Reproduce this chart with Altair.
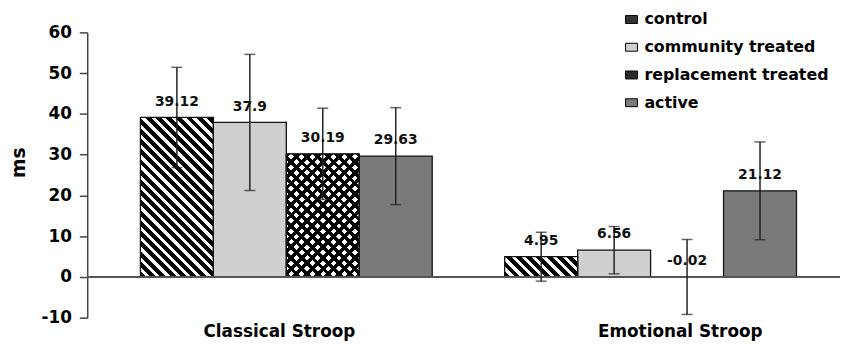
import math
import altair as alt
import pandas as pd

# ---- data ----
groups = ["Classical Stroop", "Emotional Stroop"]
series = ["control", "community treated", "replacement treated", "active"]
classical_means = [39.12, 37.9, 30.19, 29.63]
emotional_means = [4.95, 6.56, -0.02, 21.12]
classical_err = [12.3, 16.7, 11.2, 11.9]
emotional_err = [6.0, 5.8, 9.2, 12.0]

rows = []
for g, means, errs in [(groups[0], classical_means, classical_err),
                       (groups[1], emotional_means, emotional_err)]:
    for s, m, e in zip(series, means, errs):
        rows.append({"group": g, "series": s, "mean": m,
                     "lo": m - e, "hi": m + e, "label": str(m)})
df = pd.DataFrame(rows)

# ---- layout / style ----
FONT = "DejaVu Sans"
W, H = 760, 288
Y_MIN, Y_MAX = -10, 60
PPU = H / (Y_MAX - Y_MIN)
P_IN, P_OUT, ALIGN = 0.199, 0.1327, 0.55
STEP = W / (len(groups) - P_IN + 2 * P_OUT)
BAR_W = STEP * (1 - P_IN) / len(series)
fills = ["#333333", "#cfcfcf", "#2a2a2a", "#7a7a7a"]


def stripes(w, h, period, dark_frac, dark, light, direction):
    """45-degree stripe gradient in bounding-box units for a w x h bar."""
    w = max(w, 0.5)
    h = max(h, 0.5)
    k = (w + h) / (w * w + h * h)
    if direction == "back":
        x1, y1, x2, y2 = 0, 1, k * w, 1 - k * h
    else:
        x1, y1, x2, y2 = 0, 0, k * w, k * h
    n = (w + h) / (math.sqrt(2) * period)
    stops = []
    i = 0
    while i < n:
        a = i / n
        b = min((i + dark_frac) / n, 1.0)
        c = min((i + 1) / n, 1.0)
        stops += [{"offset": a, "color": dark}, {"offset": b, "color": dark},
                  {"offset": b, "color": light}, {"offset": c, "color": light}]
        i += 1
    return {"gradient": "linear", "x1": x1, "y1": y1, "x2": x2, "y2": y2,
            "stops": stops}


y_scale = alt.Scale(domain=[Y_MIN, Y_MAX], nice=False, zero=False)
y_axis = alt.Axis(values=list(range(Y_MIN, Y_MAX + 1, 10)), grid=False,
                  labelExpr="'' + datum.value",
                  tickSize=8, tickWidth=1.5, tickColor="#444",
                  domainColor="#444", domainWidth=1.5,
                  labelFont=FONT, labelFontSize=17, labelFontWeight="bold",
                  labelColor="black", labelPadding=8,
                  title="ms", titleFont=FONT, titleFontSize=19,
                  titleFontWeight="bold", titleColor="black",
                  titleAngle=270, titleX=-69, titleY=131,
                  titleAlign="center", titleBaseline="middle")


def yq(field):
    return alt.Y(field, type="quantitative", scale=y_scale, axis=y_axis)


x_enc = alt.X("group:N",
              scale=alt.Scale(domain=groups, paddingInner=P_IN,
                              paddingOuter=P_OUT, align=ALIGN),
              sort=groups,
              axis=alt.Axis(title=None, domain=False, ticks=False,
                            labelAngle=0, labelFont=FONT, labelFontSize=17,
                            labelFontWeight="bold", labelColor="black",
                            labelPadding=6,
                            labelOffset={"condition": {"test": "datum.value === 'Emotional Stroop'", "value": 30},
                                         "value": -7}))
xo_enc = alt.XOffset("series:N", sort=series,
                     scale=alt.Scale(domain=series, paddingInner=0,
                                     paddingOuter=0))

base = alt.Chart(df)

bars = base.mark_bar(strokeWidth=0).encode(
    x=x_enc, xOffset=xo_enc, y=yq("mean"), y2=alt.datum(0),
    color=alt.Color("series:N", scale=alt.Scale(domain=series, range=fills),
                    legend=alt.Legend(
                        title=None, orient="none", legendX=541.5, legendY=-21,
                        labelFont=FONT, labelFontSize=16,
                        labelFontWeight="bold", labelColor="black",
                        labelLimit=0,
                        symbolType="M-1.2,-0.8H1.2V0.8H-1.2Z",
                        symbolSize=100, symbolStrokeColor="black",
                        symbolStrokeWidth=1, symbolOpacity=1,
                        labelOffset=5, rowPadding=12, padding=0)))

patterns = []
for g, means in [(groups[0], classical_means), (groups[1], emotional_means)]:
    for s, m in zip(series, means):
        h = abs(m) * PPU
        if s == "control":
            grads = [stripes(BAR_W, h, 7.3, 0.58, "black", "white", "back")]
        elif s == "replacement treated":
            grads = [stripes(BAR_W, h, 7.6, 0.45, "black", "white", "back"),
                     stripes(BAR_W, h, 7.6, 0.45, "black", "rgba(0,0,0,0)", "fwd")]
        else:
            grads = []
        for gr in grads:
            patterns.append(
                base.transform_filter(
                    (alt.datum.group == g) & (alt.datum.series == s)
                ).mark_bar(fill=gr, strokeWidth=0).encode(
                    x=x_enc, xOffset=xo_enc, y=yq("mean"), y2=alt.datum(0)))

outline = base.mark_bar(fillOpacity=0, stroke="#111", strokeWidth=1.3).encode(
    x=x_enc, xOffset=xo_enc, y=yq("mean"), y2=alt.datum(0))

zero = base.mark_rule(color="#555", strokeWidth=2).encode(
    y=alt.datum(0), x=alt.value(0), x2=alt.value(W))

err = base.mark_rule(color="#222", strokeWidth=1.5).encode(
    x=x_enc, xOffset=xo_enc, y=yq("lo"), y2="hi")
cap_lo = base.mark_tick(color="#222", thickness=1.5, size=11).encode(
    x=x_enc, xOffset=xo_enc, y=yq("lo"))
cap_hi = base.mark_tick(color="#222", thickness=1.5, size=11).encode(
    x=x_enc, xOffset=xo_enc, y=yq("hi"))

labels = base.mark_text(font=FONT, fontSize=14, fontWeight="bold",
                        color="#111", baseline="middle", dy=-16).encode(
    x=x_enc, xOffset=xo_enc, y=yq("mean"), text="label:N")

chart = alt.layer(bars, *patterns, outline, zero, err, cap_lo, cap_hi,
                  labels).properties(
    width=W, height=H,
    padding={"left": 80, "top": 23, "right": 0, "bottom": 26},
    autosize=alt.AutoSizeParams(type="none"),
    background="white",
).configure_view(stroke=None)

chart.save("out.html", embed_options={"renderer": "svg", "actions": False})
